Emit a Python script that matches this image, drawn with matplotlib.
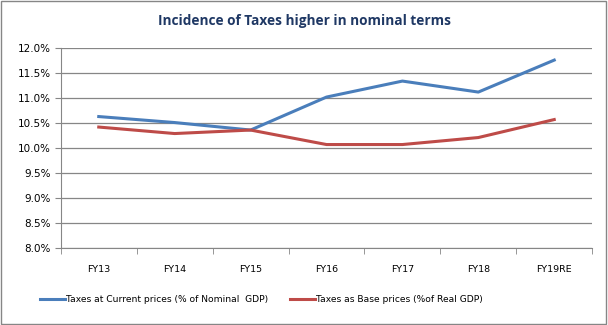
import matplotlib.pyplot as plt
import numpy as np
from matplotlib.ticker import FuncFormatter, FixedLocator

years = ['FY13', 'FY14', 'FY15', 'FY16', 'FY17', 'FY18', 'FY19RE']
current = [10.63, 10.51, 10.36, 11.02, 11.34, 11.12, 11.76]
base = [10.42, 10.29, 10.36, 10.07, 10.07, 10.21, 10.57]
yticks = [8.0, 8.5, 9.0, 9.5, 10.0, 10.5, 11.0, 11.5, 12.0]

plt.rcParams['font.family'] = ['DejaVu Sans']

fig = plt.figure(figsize=(6.08, 3.25), dpi=100)
ax = fig.add_axes([0.100, 0.237, 0.874, 0.615])

x = np.arange(len(years))
ax.plot(x, current, color='#4A7EBB', lw=2.2, label='Taxes at Current prices (% of Nominal  GDP)')
ax.plot(x, base, color='#BE4B48', lw=2.2, label='Taxes as Base prices (%of Real GDP)')

ax.set_xlim(-0.5, len(years) - 0.5)
ax.set_ylim(8.0, 12.0)
ax.set_yticks(yticks)
ax.yaxis.set_major_formatter(FuncFormatter(lambda v, p: '%.1f%%' % v))
ax.set_xticks(x)
ax.set_xticklabels(years)
ax.xaxis.set_minor_locator(FixedLocator(np.arange(len(years) + 1) - 0.5))
ax.tick_params(axis='x', which='major', length=0, pad=12, labelsize=6.8)
ax.tick_params(axis='x', which='minor', length=4, color='#868686')
ax.tick_params(axis='y', length=4, color='#868686', labelsize=7.5, pad=3)
ax.grid(axis='y', color='#868686', lw=0.9)
ax.set_axisbelow(True)
for s in ['top', 'right']:
    ax.spines[s].set_visible(False)
for s in ['left', 'bottom']:
    ax.spines[s].set_color('#868686')

fig.text(0.5, 0.935, 'Incidence of Taxes higher in nominal terms', ha='center', va='center',
         fontsize=9.8, fontweight='bold', color='#1F3864', family='Open Sans')

fig.legend(loc='center', bbox_to_anchor=(0.43, 0.077), ncol=2, frameon=False, fontsize=6.6,
           handlelength=2.7, handletextpad=0.1, columnspacing=2.4)

fig.add_artist(plt.Rectangle((0.002, 0.003), 0.994, 0.994, transform=fig.transFigure,
                             fill=False, edgecolor='#868686', lw=1))

fig.savefig('out.png', dpi=100)
